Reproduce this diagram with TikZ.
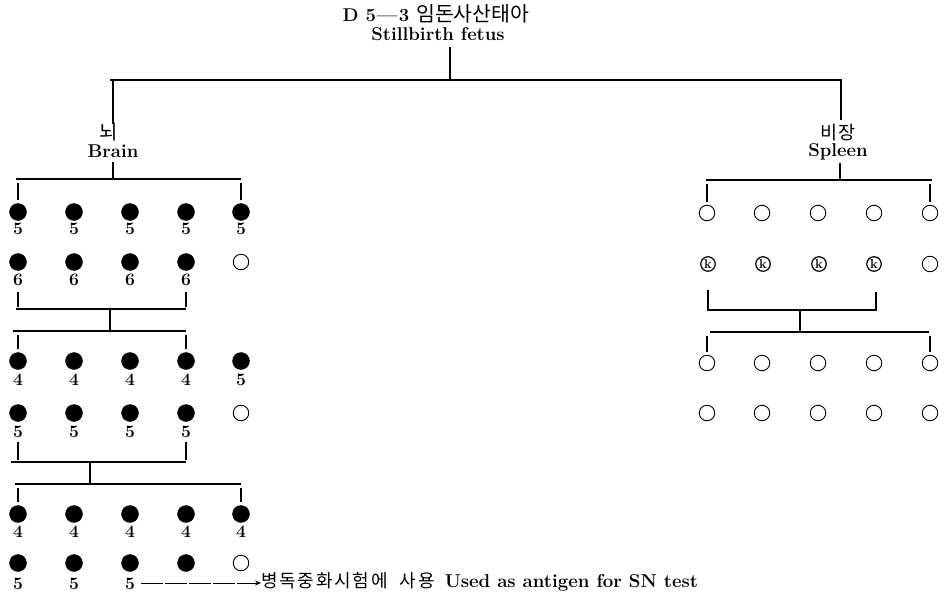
\documentclass[tikz,border=0pt]{standalone}
\usepackage{fontspec}
\newfontfamily\kr{Noto Sans CJK KR}
\newfontfamily\krwide[LetterSpace=10]{Noto Sans CJK KR}
\usetikzlibrary{arrows.meta}
\tikzset{
  txt/.style={inner sep=0pt, font=\fontsize{18.5}{20}\selectfont\bfseries},
  krtxt/.style={inner sep=0pt, font=\fontsize{18.5}{20}\selectfont\kr},
  num/.style={inner sep=0pt, font=\fontsize{17.5}{19}\selectfont\bfseries},
  posdot/.style={circle, fill=black, draw=black, inner sep=0pt, minimum size=17pt},
  negdot/.style={circle, draw=black, line width=0.9pt, inner sep=0pt, minimum size=15.5pt},
  kcell/.style={circle, draw=black, line width=1.2pt, inner sep=0pt, minimum size=14.5pt,
    font=\fontsize{13}{13}\selectfont\bfseries},
  ln/.style={line width=1.1pt},
  tick/.style={ln, shorten >=3pt},
}
\begin{document}
\begin{tikzpicture}[x=1pt, y=-1pt]
\useasboundingbox (0,0) rectangle (944,596);

% heading
\node[txt] (title) at (436,14) {D 5\kern1pt—\kern1pt3 {\kr\mdseries\fontsize{20.5}{21}\selectfont 임돈사산태아}};
\node[txt] (fetus) at (438,34) {Stillbirth fetus};
\coordinate (t0) at (450,47);
\coordinate (t1) at (450,80);
\coordinate (tl) at (110,80);
\coordinate (tr) at (842,80);
\draw[ln] (t0) -- (t1);
\draw[ln] (tl) -- (tr);

% brain branch
\coordinate (bt) at (113,80);
\coordinate (bb) at (113,124);
\draw[ln] (bt) -- (bb);
\node[krtxt, font=\fontsize{20}{21}\selectfont\kr] (brainkr) at (109,132) {뇌};
\node[txt] (brain) at (113,151) {Brain};
\coordinate (b0) at (113,162);
\coordinate (b1) at (113,179);
\draw[ln] (b0) -- (b1);
\coordinate (bl) at (16,179);
\coordinate (br) at (241,179);
\draw[ln] (bl) -- (br);

% spleen branch
\coordinate (st) at (841,80);
\coordinate (sb) at (841,120);
\draw[ln] (st) -- (sb);
\node[krtxt] (spleenkr) at (838,133) {비\kern1pt장};
\node[txt] (spleen) at (838,152) {Spleen};
\coordinate (s0) at (840,163);
\coordinate (s1) at (840,180);
\draw[ln] (s0) -- (s1);
\coordinate (sl) at (706,180);
\coordinate (sr) at (932,180);
\draw[ln] (sl) -- (sr);

% ---------------- brain passages ----------------
% passage 1
\foreach \x [count=\i] in {18,74,130,186,241} {
  \node[posdot] (a\i) at (\x,212) {};
  \node[num] (na\i) at (\x,229) {5};
}
\foreach \x [count=\i] in {18,74,130,186} {
  \node[posdot] (b\i) at (\x,262) {};
  \node[num] (nb\i) at (\x,280) {6};
}
\node[negdot] (b5) at (241,262) {};
\draw[tick] (a1.north |- bl) ++(0,4) -- (a1.north);
\draw[tick] (a5.north |- bl) ++(0,4) -- (a5.north);

% pooling 1 -> 2
\coordinate (p1l) at (16,309);
\coordinate (p1r) at (186,309);
\draw[ln] (18,292) -- (18,307);
\draw[ln] (186,292) -- (186,307);
\draw[ln] (p1l) -- (p1r);
\coordinate (p1c) at (110,309);
\coordinate (p1d) at (110,331);
\draw[ln] (p1c) -- (p1d);
\coordinate (p2l) at (13,331);
\coordinate (p2r) at (186,331);
\draw[ln] (p2l) -- (p2r);

% passage 2
\foreach \x [count=\i] in {18,74,130,186} {
  \node[posdot] (c\i) at (\x,361) {};
  \node[num] (nc\i) at (\x,380) {4};
}
\node[posdot] (c5) at (241,361) {};
\node[num] (nc5) at (241,380) {5};
\foreach \x [count=\i] in {18,74,130,186} {
  \node[posdot] (d\i) at (\x,413) {};
  \node[num] (nd\i) at (\x,432) {5};
}
\node[negdot] (d5) at (241,413) {};
\draw[tick] (c1.north |- p2l) ++(0,4) -- (c1.north);
\draw[tick] (c4.north |- p2l) ++(0,4) -- (c4.north);

% pooling 2 -> 3
\draw[ln] (18,442) -- (18,460);
\draw[ln] (186,442) -- (186,460);
\coordinate (p3l) at (11,462);
\coordinate (p3r) at (186,462);
\draw[ln] (p3l) -- (p3r);
\coordinate (p3c) at (90,462);
\coordinate (p3d) at (90,484);
\draw[ln] (p3c) -- (p3d);
\coordinate (p4l) at (15,484);
\coordinate (p4r) at (241,484);
\draw[ln] (p4l) -- (p4r);

% passage 3
\foreach \x [count=\i] in {18,74,130,186,241} {
  \node[posdot] (e\i) at (\x,514) {};
  \node[num] (ne\i) at (\x,532) {4};
}
\foreach \x [count=\i] in {18,74,130,186} {
  \node[posdot] (f\i) at (\x,563) {};
}
\node[negdot] (f5) at (241,563) {};
\foreach \x [count=\i] in {18,74,130} {
  \node[num] (nf\i) at (\x,584) {5};
}
\draw[tick] (e1.north |- p4l) ++(0,4) -- (e1.north);
\draw[tick] (e5.north |- p4l) ++(0,4) -- (e5.north);

% use of the third passage
\node[anchor=west, inner sep=0pt] (use) at (261,582)
  {{\krwide\fontsize{18}{19}\selectfont 병독중화시험에\hspace{12pt}사용}\hspace{10pt}{\fontsize{18.6}{20}\selectfont\bfseries Used as antigen for SN test}};
\coordinate (arrs) at (141,583);
\draw[line width=1pt, dash pattern=on 22pt off 2pt, -{Stealth[length=6pt,width=5pt]}]
  (arrs) -- (arrs -| use.west);

% ---------------- spleen passages ----------------
\foreach \x [count=\i] in {707,762,818,874,930} {
  \node[negdot] (g\i) at (\x,213) {};
}
\foreach \x [count=\i] in {708,763,819,874} {
  \node[kcell] (h\i) at (\x,264) {k};
}
\node[negdot] (h5) at (930,264) {};
\draw[tick] (g1.north |- sl) ++(0,4) -- (g1.north);
\draw[tick] (g5.north |- sl) ++(0,4) -- (g5.north);

% pooling
\draw[ln] (708,290) -- (708,310);
\draw[ln] (876,292) -- (876,310);
\coordinate (q1l) at (707,310);
\coordinate (q1r) at (877,310);
\draw[ln] (q1l) -- (q1r);
\coordinate (q1c) at (800,310);
\coordinate (q1d) at (800,332);
\draw[ln] (q1c) -- (q1d);
\coordinate (q2l) at (710,332);
\coordinate (q2r) at (929,332);
\draw[ln] (q2l) -- (q2r);

\foreach \x [count=\i] in {707,762,818,874,930} {
  \node[negdot] (m\i) at (\x,363) {};
  \node[negdot] (n\i) at (\x,413) {};
}
\draw[tick] (m1.north |- q2l) ++(0,4) -- (m1.north);
\draw[tick] (m5.north |- q2l) ++(0,4) -- (m5.north);
\end{tikzpicture}
\end{document}
